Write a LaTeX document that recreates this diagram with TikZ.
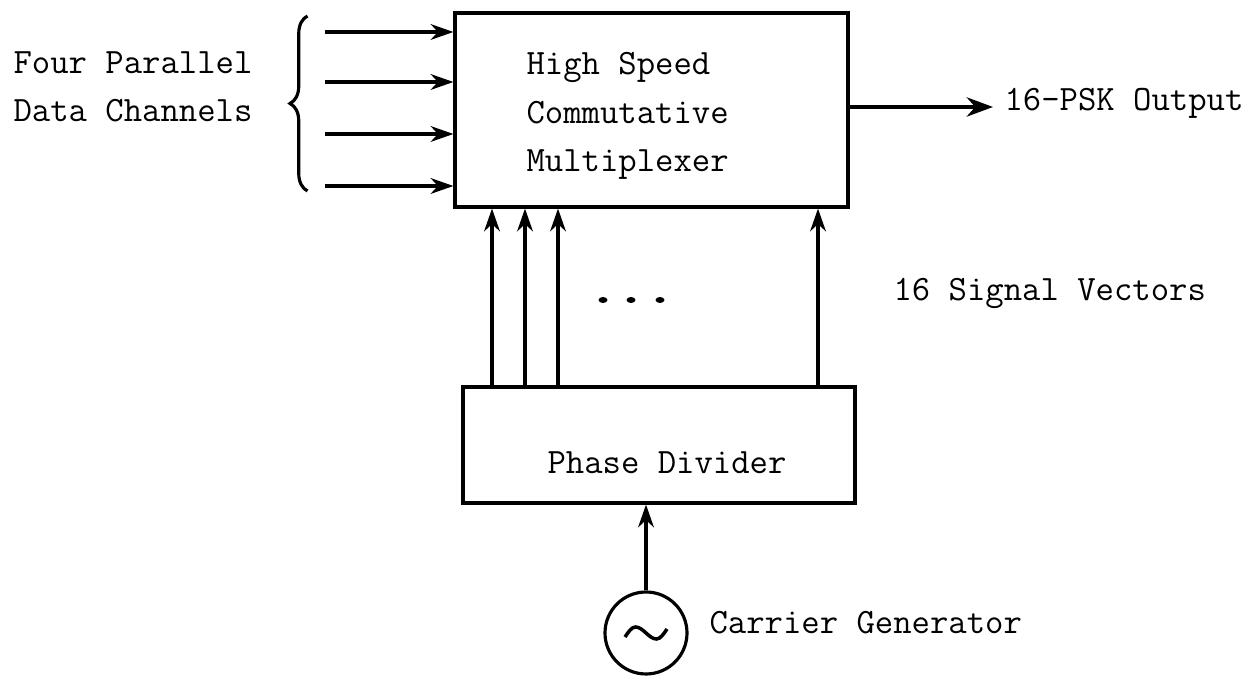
\documentclass[tikz,border=0pt]{standalone}
\usepackage{fontspec}
\usetikzlibrary{arrows.meta,decorations.pathreplacing}
\begin{document}
\begin{tikzpicture}[line width=1.8pt,
        sig/.style={-{Stealth[length=13pt,width=9pt]}},
        txt/.style={inner sep=0pt,font=\ttfamily\fontsize{20.3}{27.5}\selectfont}]
            \useasboundingbox (0,0) rectangle (25.08,13.52);
            % blocks
            \node[draw,minimum width=7.86cm,minimum height=3.88cm] (mux) at (13.03,11.32) {};
            \node[txt,align=left,anchor=west] (muxtext) at (10.5,11.2) {High Speed\\Commutative\\Multiplexer};
            \node[draw,minimum width=7.84cm,minimum height=2.32cm] (div) at (13.18,4.62) {};
            \node[txt] (divtext) at (13.34,4.27) {Phase Divider};
            \node[draw,circle,minimum size=1.64cm,inner sep=0pt] (gen) at (12.92,0.86) {};
            \draw[line width=2pt] ([shift={(-0.42,-0.08)}]gen.center) sin ++(0.21,0.2) cos ++(0.21,-0.12) sin ++(0.21,-0.12) cos ++(0.21,0.2);
            \node[txt,anchor=west] (genlbl) at (14.16,1.06) {Carrier Generator};
            % inputs
            \node[txt,align=center] (inlbl) at (2.66,11.78) {Four Parallel\\Data Channels};
            \draw[decorate,decoration={brace,amplitude=0.35cm}] (6.15,9.7) -- (6.15,13.2);
            \foreach \y [count=\i] in {12.88,11.88,10.84,9.8} {
                \coordinate (in\i) at (6.5,\y);
                \draw[sig] (in\i) -- (in\i -| mux.west);
            }
            % output
            \coordinate (out) at (19.86,11.38);
            \draw[-{Stealth[length=15pt,width=11pt]}] (mux.east |- out) -- (out);
            \node[txt,anchor=west] (outlbl) at (20.06,11.46) {16-PSK Output};
            % signal vectors
            \foreach \x in {9.84,10.5,11.16,16.36}
                \draw[sig] (\x,0 |- div.north) -- (\x,0 |- mux.south);
            \foreach \x in {12.06,12.62,13.2}
                \fill (\x,7.52) ellipse (0.09 and 0.06);
            \node[txt,anchor=west] (veclbl) at (17.84,7.66) {16 Signal Vectors};
            \draw[sig] (gen.north) -- (gen.north |- div.south);
        \end{tikzpicture}
\end{document}
